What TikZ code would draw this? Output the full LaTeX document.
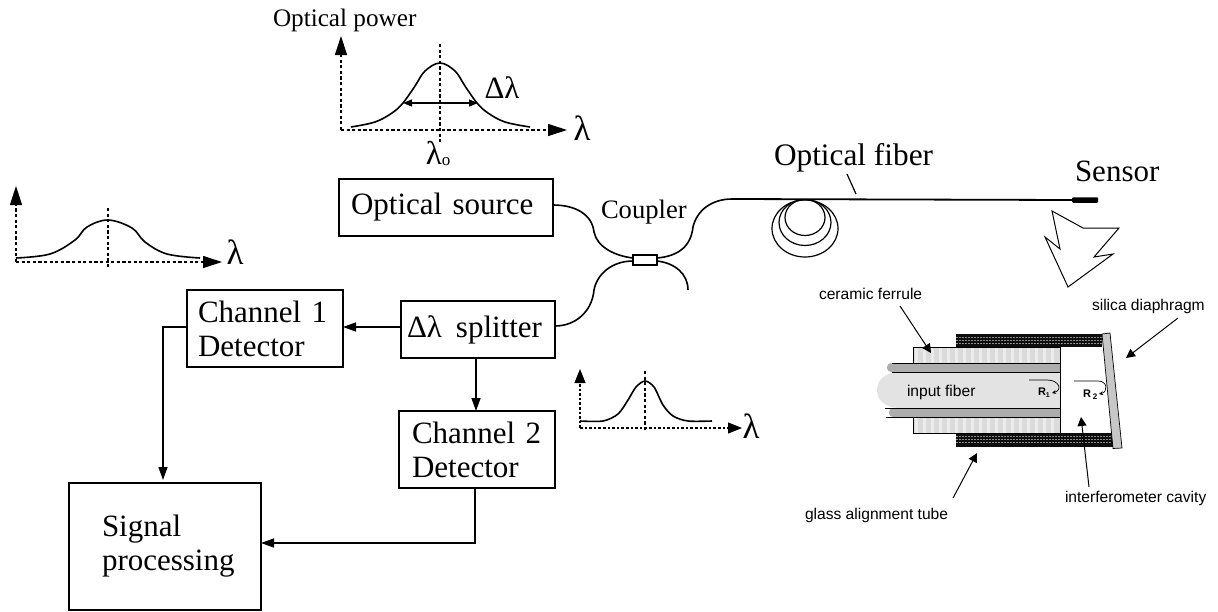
\documentclass[tikz,border=0pt]{standalone}
\usepackage{fontspec}
\setmainfont{Liberation Serif}
\newfontfamily\arialf{Liberation Sans}
\usetikzlibrary{arrows.meta}
\newcommand{\fsz}[2]{\fontsize{#1pt}{#2pt}\selectfont}
\tikzset{
  x=1pt,y=-1pt,
  every node/.style={inner sep=0pt,outer sep=0pt},
  blk/.style n args={2}{draw=black,line width=1.4pt,fill=white,minimum width=#1pt,minimum height=#2pt,text width=#1pt,align=left,font=\fsz{31}{34},anchor=north west},
  txt/.style={anchor=base west,font=\fsz{#1}{#1}},
  txt/.default=30,
  lab/.style={font=\arialf\fsz{15.6}{16},anchor=base west},
  conn/.style={line width=1.4pt,-{Triangle[length=13pt,width=9pt]}},
  fiber/.style={line width=1.6pt},
  axis/.style={line width=1.2pt,dash pattern=on 3.2pt off 2.4pt,-{Triangle[length=19pt,width=12pt]}},
  smallaxis/.style={line width=1.1pt,dash pattern=on 2.6pt off 2pt,-{Triangle[length=14pt,width=11pt]}},
  guide/.style={line width=1.1pt,dash pattern=on 3.2pt off 2.4pt},
  curve/.style={line width=1.6pt},
  callout/.style={line width=1pt,-{Triangle[length=9pt,width=9pt]}},
  thinline/.style={line width=0.9pt}
}
\begin{document}
\begin{tikzpicture}
\useasboundingbox (0,0) rectangle (1218,611);
% ---------- blocks
\node[blk={214}{57}] (src) at (339,179) {\hspace*{12pt}Optical source};
\node[blk={154}{57}] (spl) at (401,301) {\hspace*{6pt}Δλ\hspace*{14pt}splitter};
\node[blk={156}{77}] (ch1) at (187,290) {\hspace*{11pt}Channel 1\\\hspace*{11pt}Detector};
\node[blk={156}{77}] (ch2) at (399,411) {\hspace*{13pt}Channel 2\\\hspace*{13pt}Detector};
\node[blk={192}{127}] (sig) at (69,483) {\hspace*{33pt}Signal\\\hspace*{33pt}processing};
% ---------- block connectors
\draw[conn] (spl.west |- 0,327) -- (ch1.east |- 0,327);
\draw[conn] (spl.south -| 476,0) -- (ch2.north -| 476,0);
\draw[conn] (ch1.west |- 0,327) -- (163,327) -- (163,480);
\draw[conn] (ch2.south -| 475,0) -- (475,543) -- (sig.east |- 0,543);
% ---------- coupler and fibre
\node[draw=black,line width=1.2pt,fill=white,minimum width=24pt,minimum height=10pt] (cpl) at (645,260) {};
\coordinate (cplNW) at (633,258);
\coordinate (cplSW) at (633,261);
\coordinate (cplNE) at (657,258);
\coordinate (cplSE) at (657,261);
\coordinate (fibreTop) at (732,199);
\coordinate (fibreFree) at (688,290);
\coordinate (srcOut) at (553,205);
\coordinate (splOut) at (555,326);
\draw[fiber] (srcOut) .. controls (575,205) and (592,214) .. (594,232) .. controls (597,247) and (615,256) .. (cplNW);
\draw[fiber] (splOut) .. controls (575,326) and (592,312) .. (594,290) .. controls (597,274) and (612,261) .. (cplSW);
\draw[fiber] (cplNE) .. controls (680,256) and (691,245) .. (693,227) .. controls (697,210) and (712,199) .. (fibreTop);
\draw[fiber] (cplSE) .. controls (675,263) and (688,274) .. (fibreFree);
\node[fill=black,minimum width=26pt,minimum height=5.5pt,rounded corners=1pt,anchor=west] (sens) at (1072,200) {};
\draw[line width=1.8pt] (fibreTop) -- (sens.west);
\draw[line width=1.2pt] (805,228.5) ellipse [x radius=33,y radius=28.5];
\draw[line width=1.2pt] (805,222.5) ellipse [x radius=26,y radius=23];
\draw[line width=1.2pt] (805,217.5) ellipse [x radius=20,y radius=18];
\coordinate (tickA) at (847,174);
\coordinate (tickB) at (856,194);
\draw[line width=1.2pt] (tickA) -- (tickB);
% ---------- zigzag
\draw[line width=1pt,line join=miter] (1052,211) -- (1083,228) -- (1119,228) -- (1094,257) -- (1113,254) -- (1068,287) -- (1045,237) -- (1060,249) -- cycle;
% ---------- labels
\node[txt=25.2] (lpow) at (273,26) {Optical power};
\node[txt=26.6] (lcpl) at (601,218) {Coupler};
\node[txt=31.3] (lfib) at (774,165) {Optical fiber};
\node[txt=31] (lsen) at (1075,181) {Sensor};
% ---------- graph 1
\coordinate (o1) at (341,130);
\coordinate (y1) at (341,36);
\coordinate (x1) at (567,130);
\coordinate (g1a) at (440,44);
\coordinate (g1b) at (440,143);
\draw[axis] (o1) -- (y1);
\draw[axis] (o1) -- (x1);
\draw[guide] (g1a) -- (g1b);
\draw[curve] plot[smooth,tension=0.6] coordinates {(351,127) (375,122) (392,113) (403,103) (415,86) (425,71) (440,63) (455,71) (465,86) (477,103) (488,113) (505,122) (530,127)};
\coordinate (w1a) at (403,103);
\coordinate (w1b) at (478,103);
\draw[line width=1.4pt,{Triangle[length=9pt,width=7pt]}-{Triangle[length=9pt,width=7pt]}] (w1a) -- (w1b);
\node[font=\fsz{35}{35}] (l1) at (582,128) {λ};
\node[font=\fsz{31}{31}] (d1) at (502,88) {Δλ};
\node[font=\fsz{33}{33}] (l0) at (438,153) {λ\raisebox{-1pt}{\fsz{17}{17}o}};
% ---------- graph 2
\coordinate (o2) at (16,262);
\coordinate (y2) at (16,186);
\coordinate (x2) at (222,262);
\coordinate (g2a) at (108,208);
\coordinate (g2b) at (108,267);
\draw[axis] (o2) -- (y2);
\draw[axis] (o2) -- (x2);
\draw[guide] (g2a) -- (g2b);
\draw[curve] plot[smooth,tension=0.6] coordinates {(16,258) (50,254) (75,240) (87,227) (108,220) (132,228) (145,242) (167,254) (200,258)};
\node[font=\fsz{35}{35}] (l2) at (235,252) {λ};
% ---------- graph 3
\coordinate (o3) at (580,428);
\coordinate (y3) at (580,369);
\coordinate (x3) at (742,428);
\coordinate (g3a) at (645,371);
\coordinate (g3b) at (645,430);
\draw[smallaxis] (o3) -- (y3);
\draw[smallaxis] (o3) -- (x3);
\draw[guide] (g3a) -- (g3b);
\draw[curve] plot[smooth,tension=0.5] coordinates {(580,421) (603,421) (618,414) (628,400) (636,387) (645,381) (654,387) (663,405) (673,416) (688,421) (712,421)};
\node[font=\fsz{35}{35}] (l3) at (751,426) {λ};
% ---------- sensor cross-section
\fill[black!95] (956,334) rectangle (1102,347);
\fill[black!95] (956,433) rectangle (1113,447);
\foreach \yy in {337,340,343} \draw[black!45,line width=0.4pt,dash pattern=on 2pt off 1pt] (956,\yy) -- (1102,\yy);
\foreach \yy in {436,439,442} \draw[black!45,line width=0.4pt,dash pattern=on 2pt off 1pt] (956,\yy) -- (1113,\yy);
\fill[black!14] (913,347) rectangle (1060,433);
\foreach \xx in {916,924,...,1058} \draw[black!8,line width=3pt] (\xx,347) -- (\xx,433);
\draw[line width=0.9pt] (913,363) -- (913,347) -- (1060,347);
\draw[line width=0.9pt] (913,417) -- (913,433) -- (1060,433);
\fill[black!32] (1060,363) -- (892,363) .. controls (885,363) and (885,372) .. (892,372) -- (1060,372) -- cycle;
\fill[black!32] (1060,408) -- (894,408) .. controls (887,408) and (887,417) .. (894,417) -- (1060,417) -- cycle;
\fill[black!11] (1060,372) -- (900,372) .. controls (885,372) and (877,380) .. (877,390) .. controls (877,400) and (885,408) .. (900,408) -- (1060,408) -- cycle;
\draw[thinline] (892,363) -- (1060,363);
\draw[thinline] (892,372) -- (1060,372);
\draw[thinline] (885,408) -- (1060,408);
\draw[thinline] (886,417) -- (1060,417);
\draw[thinline] (1060,347) -- (1060,433);
\draw[line width=0.7pt,fill=black!22] (1102,334) -- (1110,333) -- (1122,448) -- (1113,448.5) -- cycle;
% R1 and R2
\draw[line width=0.7pt,-{Stealth[length=4pt,width=4pt]}] (1029,380) -- (1047,380) .. controls (1059,380) and (1063,390) .. (1052,393);
\draw[line width=0.7pt,-{Stealth[length=4pt,width=4pt]}] (1074,381) -- (1098,381) .. controls (1108,381) and (1108,392) .. (1099,394);
\node[anchor=base west,font=\arialf\bfseries\fsz{11}{11}] (r1) at (1038,395) {R\raisebox{-2pt}{\fsz{7}{7}1}};
\node[anchor=base west,font=\arialf\bfseries\fsz{11}{11}] (r2) at (1083,397) {R\raisebox{-2pt}{\hspace*{2pt}\fsz{8}{8}2}};
% callouts
\node[lab] (cf) at (819,299) {ceramic ferrule};
\node[lab] (sd) at (1092,310) {silica diaphragm};
\node[lab] (inf) at (907,396) {input fiber};
\node[lab] (ic) at (1065,502) {interferometer cavity};
\node[lab] (ga) at (805,519) {glass alignment tube};
\coordinate (cfA) at (900,306);
\coordinate (cfB) at (931,353);
\coordinate (sdA) at (1178,318);
\coordinate (sdB) at (1126,358);
\coordinate (gaA) at (953,498);
\coordinate (gaB) at (977,453);
\coordinate (icA) at (1089,487);
\coordinate (icB) at (1081,417);
\draw[callout] (cfA) -- (cfB);
\draw[callout] (sdA) -- (sdB);
\draw[callout] (gaA) -- (gaB);
\draw[callout] (icA) -- (icB);
\end{tikzpicture}
\end{document}
